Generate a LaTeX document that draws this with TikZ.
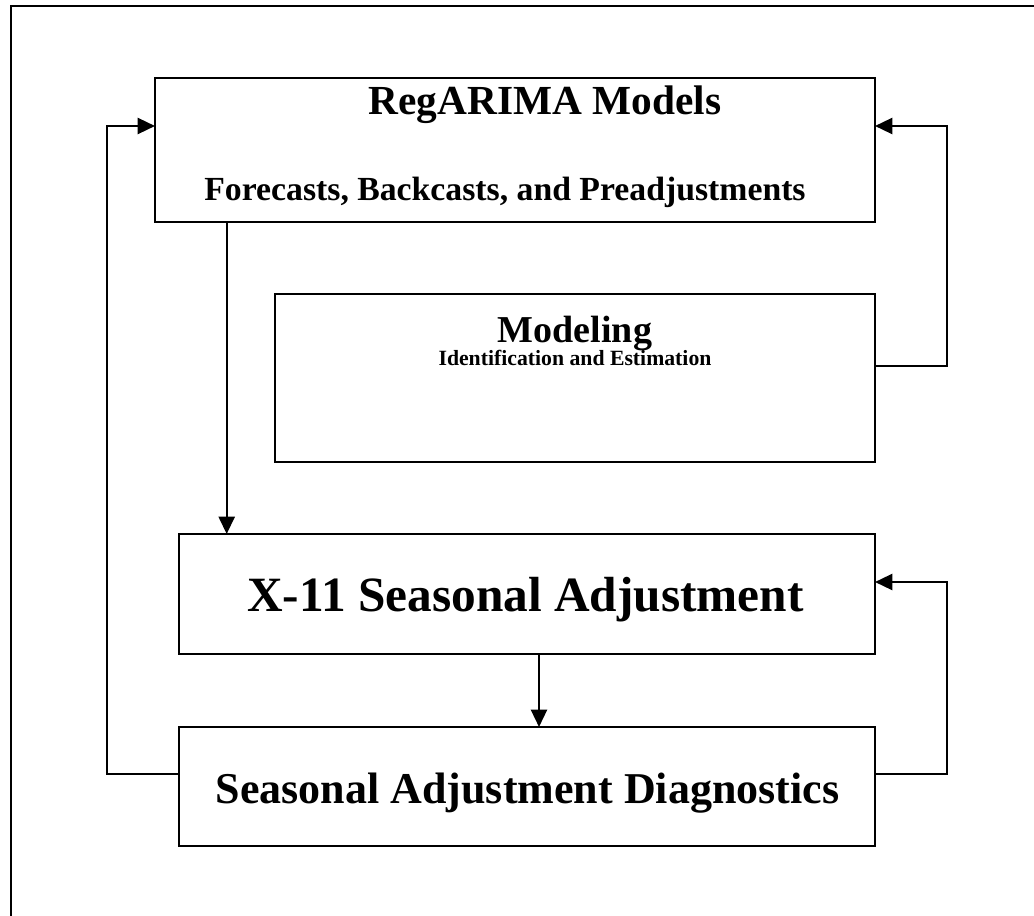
\documentclass[tikz,border=0pt]{standalone}
\usepackage{fontspec}
\setmainfont{Liberation Serif}
\usetikzlibrary{arrows.meta}
\begin{document}
\begin{tikzpicture}[x=0.75pt,y=-0.75pt,
  boxstyle/.style={draw=black,line width=1.8pt,fill=none,inner sep=0pt,outer sep=0pt},
  conn/.style={draw=black,line width=1.8pt},
  arr/.style={conn,-{Triangle[length=13pt,width=12pt]}},
  txt/.style={inner sep=0pt,anchor=base}]
\useasboundingbox (0,0) rectangle (1034,916);
\begin{scope}
\clip (0,0) rectangle (1034,916);
\draw[line width=2pt] (11,1000) -- (11,6) -- (1100,6);
\end{scope}
% boxes
\node[boxstyle,minimum width=540pt,minimum height=108pt] (reg) at (515,150) {};
\node[boxstyle,minimum width=450pt,minimum height=126pt] (mod) at (575,378) {};
\node[boxstyle,minimum width=522pt,minimum height=90pt] (x11) at (527,594) {};
\node[boxstyle,minimum width=522pt,minimum height=89.25pt] (diag) at (527,786.5) {};
% texts
\node[txt,font=\fontsize{31}{36}\selectfont\bfseries] (regt) at (545,115) {RegARIMA Models};
\node[txt,font=\fontsize{25.3}{29}\selectfont\bfseries] (regs) at (505,201) {Forecasts, Backcasts, and Preadjustments};
\node[txt,font=\fontsize{28.5}{34}\selectfont\bfseries] (modt) at (575,342) {Modeling};
\node[txt,font=\fontsize{16.3}{20}\selectfont\bfseries] (mods) at (575,365) {Identification and Estimation};
\node[txt,font=\fontsize{37}{42}\selectfont\bfseries] (x11t) at (525.5,611) {X-11 Seasonal Adjustment};
\node[txt,font=\fontsize{33}{38}\selectfont\bfseries] (diagt) at (527.5,803) {Seasonal Adjustment Diagnostics};
% connectors
\draw[arr] (reg.south -| 0,226.7) ++(226.7,0) coordinate (a1) -- (x11.north -| a1);
\draw[arr] (x11.south -| 0,539) ++(539,0) coordinate (a2) -- (diag.north -| a2);
\draw[arr] (mod.east |- 0,366) -- (947,366) |- (reg.east |- 0,126);
\draw[arr] (diag.east |- 0,774) -- (947,774) |- (x11.east |- 0,582);
\draw[arr] (diag.west |- 0,774) -- (106.7,774) |- (reg.west |- 0,126);
\end{tikzpicture}
\end{document}
